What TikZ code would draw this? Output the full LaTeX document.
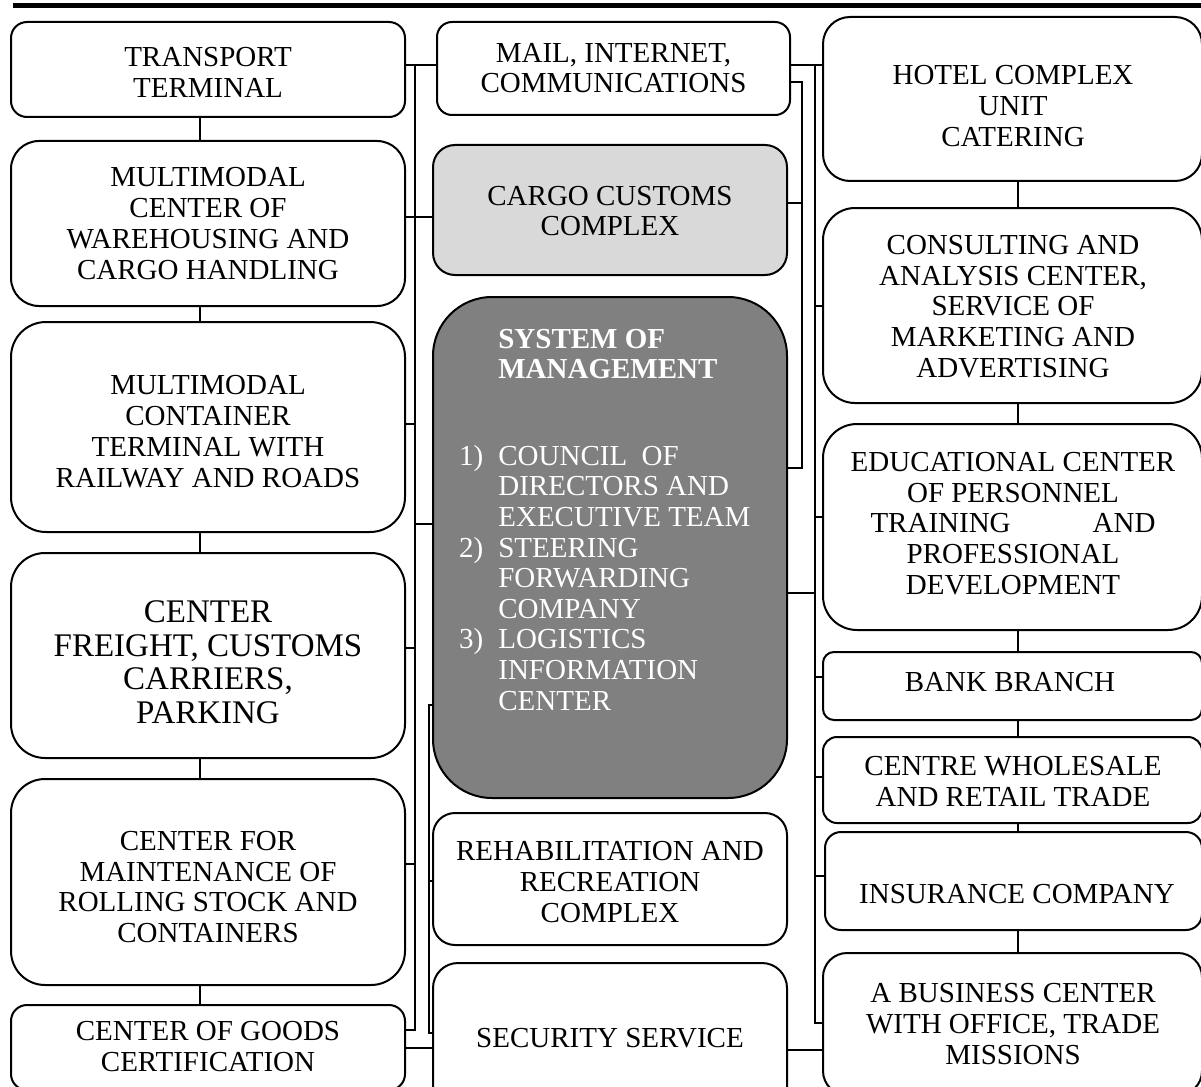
\documentclass[tikz,border=0pt]{standalone}
\usepackage{fontspec}
\setmainfont{Liberation Serif}
\begin{document}
\begin{tikzpicture}[x=1pt,y=-1pt,
  box/.style={draw=black, line width=2pt, inner sep=0pt, outer sep=0pt, fill=white},
  lbox/.style={box, minimum width=394pt},
  mbox/.style={box, minimum width=354pt},
  rbox/.style={box, minimum width=379pt},
  txt/.style={align=center, inner sep=0pt, font=\fontsize{29}{30.8}\selectfont},
  bigtxt/.style={align=center, inner sep=0pt, font=\fontsize{33}{33.5}\selectfont},
  link/.style={draw=black, line width=1.8pt}]
\useasboundingbox (0,0) rectangle (1201,1086);
% header rule
\draw[line width=5pt] (13,5.5) -- (1215,5.5);

% ---------- boxes ----------
\node[lbox, minimum height=95pt,  rounded corners=16pt] (L1) at (208,69.5) {};
\node[lbox, minimum height=165pt, rounded corners=28pt] (L2) at (208,223.5) {};
\node[lbox, minimum height=210pt, rounded corners=35pt] (L3) at (208,427) {};
\node[lbox, minimum height=205pt, rounded corners=34pt] (L4) at (208,655.5) {};
\node[lbox, minimum height=206pt, rounded corners=34pt] (L5) at (208,882) {};
\node[lbox, minimum height=85pt,  rounded corners=16pt] (L6) at (208,1047.5) {};

\node[box, minimum width=353pt, minimum height=93pt, rounded corners=15pt] (M1) at (613.5,68.5) {};
\node[mbox, minimum height=130pt, rounded corners=22pt, fill=black!15] (M2) at (610,210) {};
\node[mbox, minimum height=501pt, rounded corners=59pt, fill=black!50] (M3) at (610,547.5) {};
\node[mbox, minimum height=132pt, rounded corners=22pt] (M4) at (610,879) {};
\node[mbox, minimum height=150pt, rounded corners=25pt] (M5) at (610,1038) {};

\node[rbox, minimum height=164pt, rounded corners=27pt] (R1) at (1012.5,99) {};
\node[rbox, minimum height=195pt, rounded corners=32pt] (R2) at (1012.5,305.5) {};
\node[rbox, minimum height=206pt, rounded corners=34pt] (R3) at (1012.5,527) {};
\node[rbox, minimum height=68pt,  rounded corners=11pt] (R4) at (1012.5,686) {};
\node[rbox, minimum height=86pt,  rounded corners=14pt] (R5) at (1012.5,780) {};
\node[box, minimum width=377pt, minimum height=98pt, rounded corners=16pt] (R6) at (1013.5,881) {};
\node[rbox, minimum height=142pt, rounded corners=24pt] (R7) at (1012.5,1024) {};

% ---------- helper coordinates ----------
\coordinate (lx) at (200,0);
\coordinate (rx) at (1018,0);
\coordinate (aTop) at (415,65);
\coordinate (aBot) at (415,1030);
\coordinate (bTop) at (429,705);
\coordinate (bBot) at (429,1033);
\coordinate (cTop) at (815,65);
\coordinate (cBot) at (815,1023);
\coordinate (dTop) at (802,82);
\coordinate (dBot) at (802,468);

% ---------- left column chain ----------
\draw[link] (L1.south -| lx) -- (L2.north -| lx);
\draw[link] (L2.south -| lx) -- (L3.north -| lx);
\draw[link] (L3.south -| lx) -- (L4.north -| lx);
\draw[link] (L4.south -| lx) -- (L5.north -| lx);
\draw[link] (L5.south -| lx) -- (L6.north -| lx);

% ---------- right column chain ----------
\draw[link] (R1.south -| rx) -- (R2.north -| rx);
\draw[link] (R2.south -| rx) -- (R3.north -| rx);
\draw[link] (R3.south -| rx) -- (R4.north -| rx);
\draw[link] (R4.south -| rx) -- (R5.north -| rx);
\draw[link] (R5.south -| rx) -- (R6.north -| rx);
\draw[link] (R6.south -| rx) -- (R7.north -| rx);

% ---------- left bus ----------
\draw[link] (L1.east |- aTop) -- (M1.west |- aTop);
\draw[link] (aTop) -- (aBot) -- (L6.east |- aBot);
\draw[link] (L2.east |- 0,217) -- (M2.west |- 0,217);
\draw[link] (L3.east |- 0,424) -- (aTop |- 0,424);
\draw[link] (aTop |- 0,524) -- (M3.west |- 0,524);
\draw[link] (L4.east |- 0,648) -- (aTop |- 0,648);
\draw[link] (L5.east |- 0,864) -- (aTop |- 0,864);
\draw[link] (L6.east |- 0,1048) -- (M5.west |- 0,1048);
% middle-left bracket
\draw[link] (M3.west |- bTop) -- (bTop) -- (bBot) -- (M5.west |- bBot);
\draw[link] (bTop |- 0,881) -- (M4.west |- 0,881);

% ---------- right bus ----------
\draw[link] (M1.east |- cTop) -- (R1.west |- cTop);
\draw[link] (cTop) -- (cBot) -- (R7.west |- cBot);
\draw[link] (cTop |- 0,306) -- (R2.west |- 0,306);
\draw[link] (cTop |- 0,517) -- (R3.west |- 0,517);
\draw[link] (M3.east |- 0,593) -- (cTop |- 0,593);
\draw[link] (cTop |- 0,677) -- (R4.west |- 0,677);
\draw[link] (cTop |- 0,777) -- (R5.west |- 0,777);
\draw[link] (cTop |- 0,876) -- (R6.west |- 0,876);
\draw[link] (M5.east |- 0,1050) -- (R7.west |- 0,1050);
% middle-right bracket
\draw[link] (M1.east |- dTop) -- (dTop) -- (dBot) -- (M3.east |- dBot);
\draw[link] (M2.east |- 0,203) -- (dTop |- 0,203);

% ---------- texts ----------
\node[txt] (L1t) at (208,72.5) {TRANSPORT\\TERMINAL};
\node[txt] (L2t) at (208,223.5) {MULTIMODAL\\CENTER OF\\WAREHOUSING AND\\CARGO HANDLING};
\node[txt] (L3t) at (208,431.5) {MULTIMODAL\\CONTAINER\\TERMINAL WITH\\RAILWAY AND ROADS};
\node[bigtxt] (L4t) at (208,662) {CENTER\\FREIGHT, CUSTOMS\\CARRIERS,\\PARKING};
\node[txt] (L5t) at (208,887) {CENTER FOR\\MAINTENANCE OF\\ROLLING STOCK AND\\CONTAINERS};
\node[txt] (L6t) at (208,1046.5) {CENTER OF GOODS\\CERTIFICATION};

\node[txt] (M1t) at (613.5,68) {MAIL, INTERNET,\\COMMUNICATIONS};
\node[txt] (M2t) at (610,211) {CARGO CUSTOMS\\COMPLEX};
\node[anchor=base west, inner sep=0pt, text=white, font=\fontsize{29}{30.6}\selectfont] (M3t) at (459,348)
 {\begin{tabular}[t]{@{}r@{\hspace{15pt}}l@{}}
  & \textbf{SYSTEM OF}\\
  & \textbf{MANAGEMENT}\\[56pt]
  1) & COUNCIL\ \ OF\\
     & DIRECTORS AND\\
     & EXECUTIVE TEAM\\
  2) & STEERING\\
     & FORWARDING\\
     & COMPANY\\
  3) & LOGISTICS\\
     & INFORMATION\\
     & CENTER
  \end{tabular}};
\node[txt] (M4t) at (610,882) {REHABILITATION AND\\RECREATION\\COMPLEX};
\node[txt] (M5t) at (610,1038) {SECURITY SERVICE};

\node[txt] (R1t) at (1013,106) {HOTEL COMPLEX\\UNIT\\CATERING};
\node[txt] (R2t) at (1013,306.5) {CONSULTING AND\\ANALYSIS CENTER,\\SERVICE OF\\MARKETING AND\\ADVERTISING};
\node[txt] (R3t) at (1013,523.5) {EDUCATIONAL CENTER\\OF PERSONNEL\\\makebox[285pt]{TRAINING\hfill AND}\\PROFESSIONAL\\DEVELOPMENT};
\node[txt] (R4t) at (1010,682) {BANK BRANCH};
\node[txt] (R5t) at (1013,781.5) {CENTRE WHOLESALE\\AND RETAIL TRADE};
\node[txt] (R6t) at (1017,894) {INSURANCE COMPANY};
\node[txt] (R7t) at (1013,1024) {A BUSINESS CENTER\\WITH OFFICE, TRADE\\MISSIONS};
\end{tikzpicture}
\end{document}
